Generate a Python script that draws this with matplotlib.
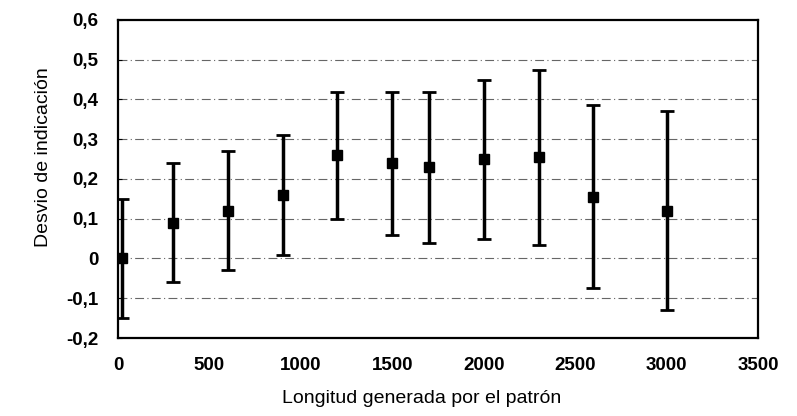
import matplotlib.pyplot as plt
from matplotlib.ticker import FuncFormatter

# datos
longitud = [20, 300, 600, 900, 1200, 1500, 1700, 2000, 2300, 2600, 3000]
desvio = [0.0, 0.09, 0.12, 0.16, 0.26, 0.24, 0.23, 0.25, 0.255, 0.155, 0.12]
err_inf = [0.15, 0.15, 0.15, 0.15, 0.16, 0.18, 0.19, 0.20, 0.22, 0.23, 0.25]
err_sup = [0.15, 0.15, 0.15, 0.15, 0.16, 0.18, 0.19, 0.20, 0.22, 0.23, 0.25]

plt.rcParams['font.family'] = ['Liberation Sans', 'DejaVu Sans']

fig = plt.figure(figsize=(7.97, 4.16), dpi=100)
ax = fig.add_axes([0.148, 0.1875, 0.803, 0.7645])

for y in [-0.1, 0, 0.1, 0.2, 0.3, 0.4, 0.5]:
    ax.axhline(y, color='#666666', lw=0.8, ls=(0, (8, 3, 1, 3)), zorder=0)

ax.errorbar(longitud, desvio, yerr=[err_inf, err_sup], fmt='s', color='black',
            ms=7, elinewidth=2.5, capsize=5, capthick=2)

ax.set_xlim(0, 3500)
ax.set_ylim(-0.2, 0.6)
ax.set_xticks(range(0, 3501, 500))
ax.set_yticks([-0.2, -0.1, 0, 0.1, 0.2, 0.3, 0.4, 0.5, 0.6])
ax.yaxis.set_major_formatter(FuncFormatter(lambda v, p: ('%g' % round(v, 1)).replace('.', ',')))
ax.tick_params(axis='x', length=0, pad=14, labelsize=13.5)
ax.tick_params(axis='y', direction='in', length=3, pad=14, labelsize=13.5)
for lab in ax.get_xticklabels() + ax.get_yticklabels():
    lab.set_fontweight('bold')
for s in ax.spines.values():
    s.set_linewidth(1.6)

ax.set_xlabel('Longitud generada por el patrón', fontsize=14)
ax.set_ylabel('Desvio de indicación', fontsize=14)
ax.xaxis.set_label_coords(0.475, -0.165)
ax.yaxis.set_label_coords(-0.103, 0.57)

fig.savefig('out.png', dpi=100)
